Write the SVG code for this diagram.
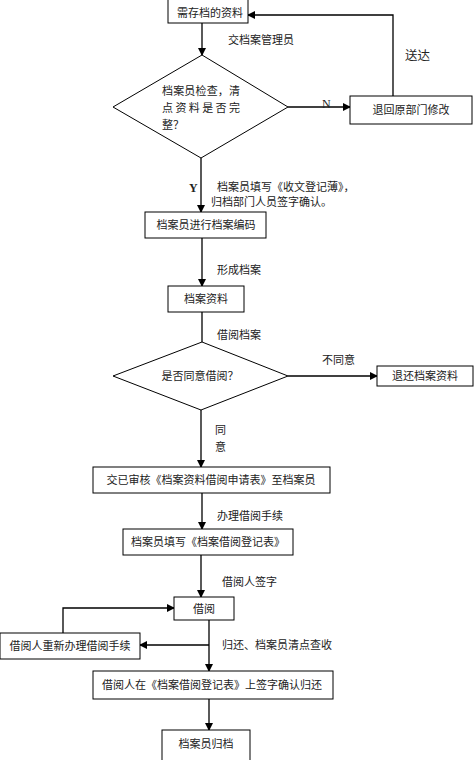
<svg xmlns="http://www.w3.org/2000/svg" width="474" height="760" viewBox="0 0 474 760">
<defs>
<marker id="ah" markerWidth="8" markerHeight="8" refX="7" refY="4" orient="auto" markerUnits="userSpaceOnUse">
<path d="M0,0 L8,4 L0,8 Z" fill="#000"/>
</marker>
<style>
.box{fill:#fff;stroke:#000;stroke-width:1}
.ln{fill:none;stroke:#000;stroke-width:1.3}
text{font-family:"Liberation Serif","Noto Sans CJK SC",serif;font-size:11px;fill:#222}
.c{text-anchor:middle;dominant-baseline:central}
</style>
</defs>
<rect width="474" height="760" fill="#fff"/>
<g id="connectors">
<line class="ln" x1="202" y1="23" x2="202" y2="55" marker-end="url(#ah)"/>
<line class="ln" x1="288" y1="107" x2="350" y2="107" marker-end="url(#ah)"/>
<polyline class="ln" points="393,96 393,15 248,15" marker-end="url(#ah)"/>
<line class="ln" x1="201" y1="158" x2="201" y2="212" marker-end="url(#ah)"/>
<line class="ln" x1="202" y1="238" x2="202" y2="286" marker-end="url(#ah)"/>
<line class="ln" x1="202" y1="312" x2="202" y2="342"/>
<line class="ln" x1="288" y1="376" x2="377" y2="376" marker-end="url(#ah)"/>
<line class="ln" x1="201" y1="410" x2="201" y2="467" marker-end="url(#ah)"/>
<line class="ln" x1="202" y1="493" x2="202" y2="529" marker-end="url(#ah)"/>
<line class="ln" x1="201" y1="555" x2="201" y2="597" marker-end="url(#ah)"/>
<polyline class="ln" points="63,633 63,608 174,608" marker-end="url(#ah)"/>
<line class="ln" x1="209" y1="620" x2="209" y2="671" marker-end="url(#ah)"/>
<line class="ln" x1="209" y1="645" x2="140" y2="645" marker-end="url(#ah)"/>
<line class="ln" x1="209" y1="699" x2="209" y2="730" marker-end="url(#ah)"/>
<text x="228" y="44">交档案管理员</text>
<text x="405" y="60" style="font-size:12.5px">送达</text>
<text x="322" y="108" style="font-size:12px">N</text>
<text x="189" y="192" style="font-size:12px;font-weight:bold">Y</text>
<text x="217" y="191">档案员填写《收文登记薄》，</text>
<text x="211" y="206">归档部门人员签字确认。</text>
<text x="217" y="274">形成档案</text>
<text x="217" y="339">借阅档案</text>
<text x="322" y="364">不同意</text>
<text x="215" y="434">同</text>
<text x="215" y="451">意</text>
<text x="217" y="520">办理借阅手续</text>
<text x="222" y="586">借阅人签字</text>
<text x="222" y="649">归还、档案员清点查收</text>
</g>
<g id="n1"><rect class="box" x="168" y="-1" width="80" height="24"/><text class="c" x="210" y="13">需存档的资料</text></g>
<g id="d1"><polygon class="box" points="202,55 288,107 201,158 113,107"/>
<text x="162" y="95" textLength="78">档案员检查，清</text>
<text x="162" y="112" textLength="78">点资料是否完</text>
<text x="162" y="129">整？</text></g>
<g id="n2"><rect class="box" x="350" y="96" width="122" height="28"/><text class="c" x="411" y="110">退回原部门修改</text></g>
<g id="n3"><rect class="box" x="145" y="212" width="121" height="26"/><text class="c" x="206" y="225">档案员进行档案编码</text></g>
<g id="n4"><rect class="box" x="168" y="286" width="76" height="26"/><text class="c" x="206" y="299">档案资料</text></g>
<g id="d2"><polygon class="box" points="202,342 288,376 201,410 113,376"/><text class="c" x="200" y="376">是否同意借阅？</text></g>
<g id="n5"><rect class="box" x="377" y="366" width="96" height="20"/><text class="c" x="425" y="376">退还档案资料</text></g>
<g id="n6"><rect class="box" x="93" y="467" width="237" height="26"/><text class="c" x="211" y="480">交已审核《档案资料借阅申请表》至档案员</text></g>
<g id="n7"><rect class="box" x="123" y="529" width="170" height="26"/><text class="c" x="208" y="542">档案员填写《档案借阅登记表》</text></g>
<g id="n8"><rect class="box" x="174" y="597" width="60" height="23"/><text class="c" x="204" y="609">借阅</text></g>
<g id="n9"><rect class="box" x="0" y="633" width="140" height="26"/><text class="c" x="70" y="646">借阅人重新办理借阅手续</text></g>
<g id="n10"><rect class="box" x="93" y="671" width="240" height="28"/><text class="c" x="212" y="685">借阅人在《档案借阅登记表》上签字确认归还</text></g>
<g id="n11"><rect class="box" x="162" y="730" width="88" height="31"/><text class="c" x="206" y="744">档案员归档</text></g>
</svg>
